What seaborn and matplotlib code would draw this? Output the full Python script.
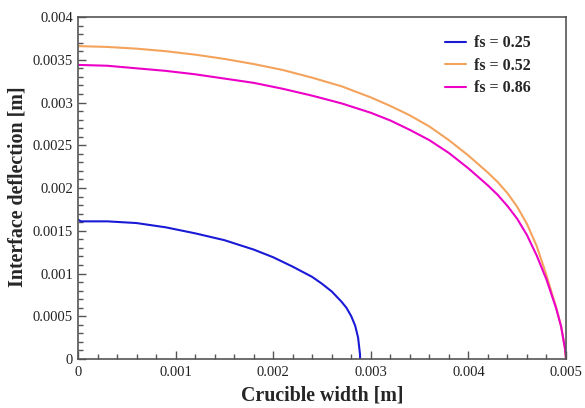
import numpy as np
import pandas as pd
import matplotlib
matplotlib.use("Agg")
import matplotlib.pyplot as plt
import seaborn as sns
from matplotlib.ticker import MultipleLocator

# Data
x_025 = [0.0, 0.00003, 0.0003, 0.0006, 0.0009, 0.0012, 0.0015, 0.0018, 0.0020,
         0.0022, 0.0024, 0.0025, 0.0026, 0.0027, 0.00275, 0.0028, 0.00284,
         0.00287, 0.00288, 0.00289, 0.00289]
y_025 = [0.00163, 0.00161, 0.00161, 0.00159, 0.00154, 0.00147, 0.00139, 0.00128,
         0.00119, 0.00108, 0.00096, 0.00088, 0.00079, 0.00067, 0.00060, 0.00050,
         0.00039, 0.00025, 0.00015, 0.00005, 0.0]

x_052 = [0.0, 0.0003, 0.0006, 0.0009, 0.0012, 0.0015, 0.0018, 0.0021, 0.0024,
         0.0027, 0.0030, 0.0032, 0.0034, 0.0036, 0.0038, 0.0040, 0.0042, 0.0043,
         0.0044, 0.0045, 0.0046, 0.0047, 0.0048, 0.0049, 0.00495, 0.00499, 0.005]
y_052 = [0.00366, 0.00365, 0.00363, 0.00360, 0.00356, 0.00351, 0.00345, 0.00338,
         0.00329, 0.00319, 0.00306, 0.00296, 0.00285, 0.00272, 0.00256, 0.00238,
         0.00218, 0.00207, 0.00194, 0.00178, 0.00158, 0.00132, 0.00098, 0.00060,
         0.00038, 0.00012, 0.0]

x_086 = [0.0, 0.0003, 0.0006, 0.0009, 0.0012, 0.0015, 0.0018, 0.0021, 0.0024,
         0.0027, 0.0030, 0.0032, 0.0034, 0.0036, 0.0038, 0.0040, 0.0042, 0.0043,
         0.0044, 0.0045, 0.0046, 0.0047, 0.0048, 0.0049, 0.00495, 0.00499, 0.005]
y_086 = [0.00344, 0.00343, 0.00340, 0.00337, 0.00333, 0.00328, 0.00323, 0.00316,
         0.00308, 0.00299, 0.00288, 0.00279, 0.00268, 0.00256, 0.00241, 0.00223,
         0.00203, 0.00192, 0.00179, 0.00164, 0.00145, 0.00121, 0.00093, 0.00059,
         0.00038, 0.00012, 0.0]

labels = ["fs = 0.25", "fs = 0.52", "fs = 0.86"]
colors = ["#1a1ad6", "#f4a35c", "#ec00c8"]

frames = []
for lab, xs, ys in zip(labels, [x_025, x_052, x_086], [y_025, y_052, y_086]):
    frames.append(pd.DataFrame({"x": xs, "y": ys, "series": lab}))
df = pd.concat(frames, ignore_index=True)

sns.set_style("white")
plt.rcParams["font.family"] = ["Liberation Serif", "DejaVu Serif"]

fig = plt.figure(figsize=(5.85, 4.08), dpi=100)
ax = fig.add_axes([0.1333, 0.1201, 0.8342, 0.8382])

sns.lineplot(data=df, x="x", y="y", hue="series", palette=dict(zip(labels, colors)),
             sort=False, estimator=None, ax=ax, linewidth=1.5)

ax.set_xlim(0, 0.005)
ax.set_ylim(0, 0.004)
ax.xaxis.set_major_locator(MultipleLocator(0.001))
ax.xaxis.set_minor_locator(MultipleLocator(0.0002))
ax.yaxis.set_major_locator(MultipleLocator(0.0005))
ax.yaxis.set_minor_locator(MultipleLocator(0.0001))

def fmt(v, pos):
    if abs(v) < 1e-12:
        return "0"
    return ("%.4f" % v).rstrip("0")
ax.xaxis.set_major_formatter(plt.FuncFormatter(fmt))
ax.yaxis.set_major_formatter(plt.FuncFormatter(fmt))

for s in ax.spines.values():
    s.set_color("#555555")
    s.set_linewidth(1.2)

ax.tick_params(which="both", direction="in", colors="#555555", labelcolor="#222222",
               bottom=True, left=True, top=False, right=False)
ax.tick_params(which="major", length=6, width=1.0, labelsize=10.5)
ax.tick_params(which="minor", length=3.5, width=1.0)
ax.tick_params(axis="x", pad=5)

ax.set_xlabel("Crucible width [m]", fontsize=14.3, fontweight="bold", va="center")
ax.set_ylabel("Interface deflection [m]", fontsize=14.4, fontweight="bold", va="center")
ax.xaxis.set_label_coords(0.5, -0.108)
ax.yaxis.set_label_coords(-0.124, 0.504)

leg = ax.legend(loc="upper right", bbox_to_anchor=(0.958, 0.988), frameon=False,
                prop={"size": 11.5, "weight": "bold"}, handlelength=1.3,
                handletextpad=0.55, labelspacing=0.4)
for h in leg.get_lines():
    h.set_linewidth(1.5)

fig.savefig("out.png", dpi=100)
